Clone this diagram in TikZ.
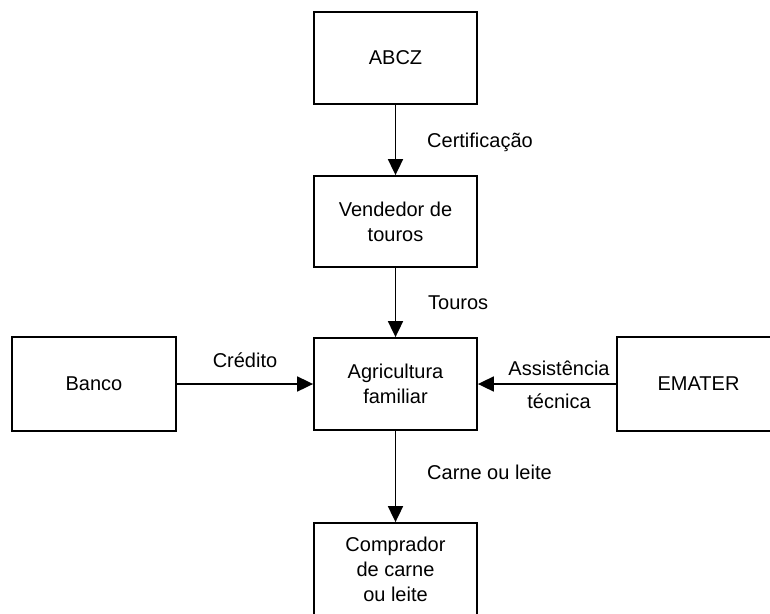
\documentclass[tikz,border=0pt]{standalone}
\usepackage{fontspec}
\setmainfont{Liberation Sans}
\usetikzlibrary{arrows.meta}
\begin{document}
\begin{tikzpicture}[x=1pt,y=-1pt,
  box/.style={draw=black, line width=1.8pt, minimum width=163pt, minimum height=92pt,
    align=center, inner sep=0pt, font=\fontsize{20}{25}\selectfont},
  lbl/.style={inner sep=0pt, anchor=base west, font=\fontsize{20}{25}\selectfont},
  conn/.style={line width=1.8pt, -{Triangle[length=16pt,width=15pt]}}]
\useasboundingbox (0,0) rectangle (770,613);
\clip (0,0) rectangle (770,613);
\node[box] (abcz) at (395.5,58) {ABCZ};
\node[box, minimum height=91pt] (vend) at (395.5,221.5) {Vendedor de\\touros};
\node[box] (agri) at (395.5,384) {Agricultura\\familiar};
\node[box] (comp) at (395.5,569) {Comprador\\de carne\\ou leite};
\node[box, minimum width=164pt, minimum height=94pt] (banco) at (94,384) {Banco};
\node[box, minimum height=94pt] (emater) at (698.5,384) {EMATER};
\draw[conn] (abcz) -- (vend);
\draw[conn] (vend) -- (agri);
\draw[conn] (agri) -- (comp);
\draw[conn] (banco) -- (agri);
\draw[conn] (emater) -- (agri);
\node[lbl] (l1) at (427,147) {Certificação};
\node[lbl] (l2) at (428,309) {Touros};
\node[lbl] (l3) at (427,479) {Carne ou leite};
\node[lbl, anchor=base] (l4) at (245,367) {Crédito};
\node[lbl, anchor=base] (l5) at (559,375) {Assistência};
\node[lbl, anchor=base] (l6) at (559,408) {técnica};
\end{tikzpicture}
\end{document}
